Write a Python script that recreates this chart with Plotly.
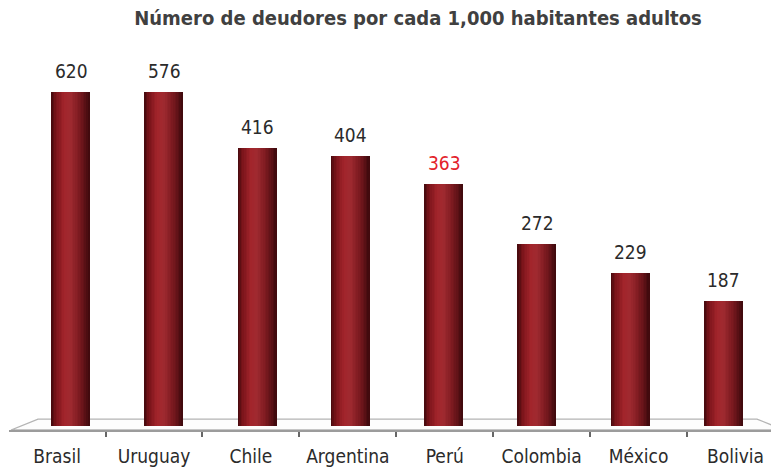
import plotly.graph_objects as go

# Debtors per 1,000 adult inhabitants
countries = ["Brasil", "Uruguay", "Chile", "Argentina", "Perú", "Colombia", "México", "Bolivia"]
debtors = [620, 576, 416, 404, 363, 272, 229, 187]
highlight = "Perú"

title_text = "Número de deudores por cada 1,000 habitantes adultos"

W, H = 771, 467
TOP, BOTTOM = 92, 432          # plot area in pixels
ZERO_PX = 428                  # pixel row of the value 0
YMAX = 500
a = (BOTTOM - ZERO_PX) * YMAX / ((BOTTOM - TOP) - (BOTTOM - ZERO_PX))
YMIN = -a
px_per_unit = (BOTTOM - TOP) / (YMAX - YMIN)


def px_to_y(py):
    return (ZERO_PX - py) / px_per_unit


FONT = "DejaVu Sans Condensed, DejaVu Sans, sans-serif"

# cylinder shading profile: (position across bar, rgb)
shade = [
    (0.00, (66, 9, 13)),
    (0.12, (120, 19, 25)),
    (0.34, (162, 36, 43)),
    (0.50, (160, 42, 48)),
    (0.70, (130, 28, 34)),
    (0.87, (96, 18, 23)),
    (1.00, (60, 8, 12)),
]


def shade_at(t):
    for (t0, c0), (t1, c1) in zip(shade[:-1], shade[1:]):
        if t0 <= t <= t1:
            f = (t - t0) / (t1 - t0)
            return "rgb(%d,%d,%d)" % tuple(round(c0[i] + f * (c1[i] - c0[i])) for i in range(3))
    return "rgb(%d,%d,%d)" % shade[-1][1]


fig = go.Figure()

BAR_W = 0.41
N = 24
strip = BAR_W / N
for k in range(N):
    t = (k + 0.5) / N
    fig.add_trace(go.Bar(
        x=countries, y=debtors,
        width=strip * 1.15,
        offset=-BAR_W / 2 + k * strip,
        marker=dict(color=shade_at(t), line=dict(width=0)),
        showlegend=False, hoverinfo="skip",
    ))

# category axis along the front edge of the floor
fig.add_trace(go.Scatter(
    x=list(range(len(countries))), y=[None] * len(countries),
    xaxis="x2", yaxis="y", mode="markers",
    showlegend=False, hoverinfo="skip",
))

# value labels
for c, v in zip(countries, debtors):
    fig.add_annotation(
        x=c, y=min(v, YMAX), xref="x", yref="y",
        text=str(v), showarrow=False, yanchor="middle", yshift=21,
        font=dict(family=FONT, size=19,
                  color="#e3232b" if c == highlight else "#2b2b2b"),
    )

# floor plane
yb = px_to_y(421)
yf = YMIN
fig.add_shape(
    type="path", xref="paper", yref="y", layer="below",
    path=f"M {11/W} {yf} L {38/W} {yb} L {757/W} {yb} L {784/W} {yf} Z",
    line=dict(color="#b4b4b4", width=1.3), fillcolor="#fdfdfd",
)

fig.update_layout(
    width=W, height=H,
    margin=dict(l=0, r=0, t=TOP, b=H - BOTTOM),
    paper_bgcolor="white", plot_bgcolor="rgba(0,0,0,0)",
    barmode="overlay", bargap=0,
    title=dict(
        text=title_text, x=418 / W, xanchor="center", xref="paper",
        y=1 - 18 / H, yanchor="middle", yref="container",
        font=dict(family=FONT, size=20, color="#404040", weight="bold"),
    ),
    xaxis=dict(
        type="category", categoryorder="array", categoryarray=countries,
        domain=[24.4 / W, 770.6 / W], range=[-0.5, 7.5], visible=False,
    ),
    xaxis2=dict(
        anchor="y", domain=[8.6 / W, 1.0],
        range=[-0.5, (W - 56.1) / 97.05],
        tickmode="array", tickvals=list(range(len(countries))), ticktext=countries,
        ticks="", showgrid=False, zeroline=False,
        showline=True, linecolor="#9c9c9c", linewidth=2,
        tickfont=dict(family=FONT, size=19, color="#2b2b2b"),
        ticklabelstandoff=8,
        minor=dict(tickvals=[i + 0.5 for i in range(len(countries) - 1)],
                   ticks="outside", ticklen=5, tickwidth=1.5, tickcolor="#666"),
    ),
    yaxis=dict(range=[YMIN, YMAX], visible=False, showgrid=False),
)

fig.write_html("out.html")
